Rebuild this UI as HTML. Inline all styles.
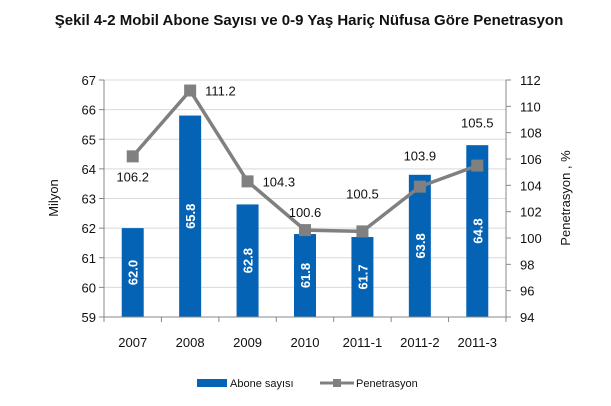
<!DOCTYPE html>
<html><head><meta charset="utf-8"><style>
body{margin:0;background:#fff;}
svg{font-family:"Liberation Sans",sans-serif;display:block}
</style></head><body>
<svg width="611" height="406" viewBox="0 0 611 406">
<text x="309" y="25" text-anchor="middle" font-size="15" font-weight="bold" fill="#111">Şekil 4-2 Mobil Abone Sayısı ve 0-9 Yaş Hariç Nüfusa Göre Penetrasyon</text>
<g id="grid"></g><g id="bars"></g><g id="axes"></g><g id="line"></g>
<text transform="translate(58,198) rotate(-90)" text-anchor="middle" font-size="13" fill="#111">Milyon</text>
<text transform="translate(570,198) rotate(-90)" text-anchor="middle" font-size="13" fill="#111">Penetrasyon , %</text>
<g>
<rect x="197" y="379" width="30" height="8" fill="#0563B5"/>
<text x="230" y="387" font-size="11" fill="#111">Abone sayısı</text>
<line x1="320" y1="383" x2="354" y2="383" stroke="#808080" stroke-width="3"/>
<rect x="333" y="379" width="8" height="8" fill="#808080"/>
<text x="356" y="387" font-size="11" fill="#111">Penetrasyon</text>
</g>
</svg>
<script>
const categories=["2007","2008","2009","2010","2011-1","2011-2","2011-3"];
const aboneValues=[62.0,65.8,62.8,61.8,61.7,63.8,64.8];
const penetrasyonValues=[106.2,111.2,104.3,100.6,100.5,103.9,105.5];
const leftTicks=[59,60,61,62,63,64,65,66,67];
const rightTicks=[94,96,98,100,102,104,106,108,110,112];
const labelPlacement=["below","right","right","above","above","above","above"];
const labelLift=[0,0,0,13,33,26,38];

const NS="http://www.w3.org/2000/svg";
const X0=104,X1=506,Y0=317,Y1=80;
const band=(X1-X0)/categories.length;
const xc=i=>X0+band*(i+0.5);
const yL=v=>Y0-(v-59)/(67-59)*(Y0-Y1);
const yR=v=>Y0-(v-94)/(112-94)*(Y0-Y1);
function mk(tag,attrs,parent){const e=document.createElementNS(NS,tag);for(const k in attrs)e.setAttribute(k,attrs[k]);document.getElementById(parent).appendChild(e);return e;}
leftTicks.forEach(t=>{
  if(t>59){const g=mk('line',{x1:X0,x2:X1,y1:yL(t),y2:yL(t),stroke:'#d9d9d9','stroke-width':1},'grid');
  
  }
  const tx=mk('text',{x:X0-8,y:yL(t)+5,'text-anchor':'end','font-size':13,fill:'#111'},'axes');tx.textContent=t;
  
  
});
rightTicks.forEach(t=>{
  mk('line',{x1:X1,x2:X1+5,y1:yR(t),y2:yR(t),stroke:'#888'},'axes');
  const tx=mk('text',{x:X1+14,y:yR(t)+5,'font-size':13,fill:'#111'},'axes');tx.textContent=t;
  
  
});
leftTicks.forEach(t=>mk('line',{x1:X0-5,x2:X0,y1:yL(t),y2:yL(t),stroke:'#888'},'axes'));
mk('line',{x1:X0,x2:X0,y1:Y1,y2:Y0,stroke:'#888'},'axes');
mk('line',{x1:X1,x2:X1,y1:Y1,y2:Y0,stroke:'#888'},'axes');
mk('line',{x1:X0,x2:X1,y1:Y0,y2:Y0,stroke:'#888'},'axes');
categories.forEach((c,i)=>{
  mk('line',{x1:X0+band*i,x2:X0+band*i,y1:Y0,y2:Y0+5,stroke:'#888'},'axes');
  if(i==categories.length-1)mk('line',{x1:X1,x2:X1,y1:Y0,y2:Y0+5,stroke:'#888'},'axes');
  const tx=mk('text',{x:xc(i),y:Y0+30,'text-anchor':'middle','font-size':13,fill:'#111'},'axes');tx.textContent=c;
  
  
  const v=aboneValues[i];
  const b=mk('rect',{x:xc(i)-11,y:yL(v),width:22,height:Y0-yL(v),fill:'#0563B5'},'bars');
  
  
  const my=(yL(v)+Y0)/2;
  const bl=mk('text',{x:xc(i)+5,y:my,transform:`rotate(-90 ${xc(i)+5} ${my})`,'text-anchor':'middle','font-size':13,'font-weight':'bold',fill:'#fff'},'bars');
  bl.textContent=v.toFixed(1);
  
  
});
const pts=penetrasyonValues.map((v,i)=>xc(i)+','+yR(v)).join(' ');
const pl=mk('polyline',{points:pts,fill:'none',stroke:'#808080','stroke-width':3.5},'line');


penetrasyonValues.forEach((v,i)=>{
  const m=mk('rect',{x:xc(i)-6,y:yR(v)-6,width:12,height:12,fill:'#808080'},'line');
  
  
  const p=labelPlacement[i];let x=xc(i),y=yR(v),a='middle';
  if(p==='below'){y+=25;}else if(p==='right'){x+=15;y+=5;a='start';}else{y-=labelLift[i];}
  const t=mk('text',{x:x,y:y,'text-anchor':a,'font-size':13,fill:'#111'},'line');
  t.textContent=v.toFixed(1);
  
  
});
</script>
</body></html>
